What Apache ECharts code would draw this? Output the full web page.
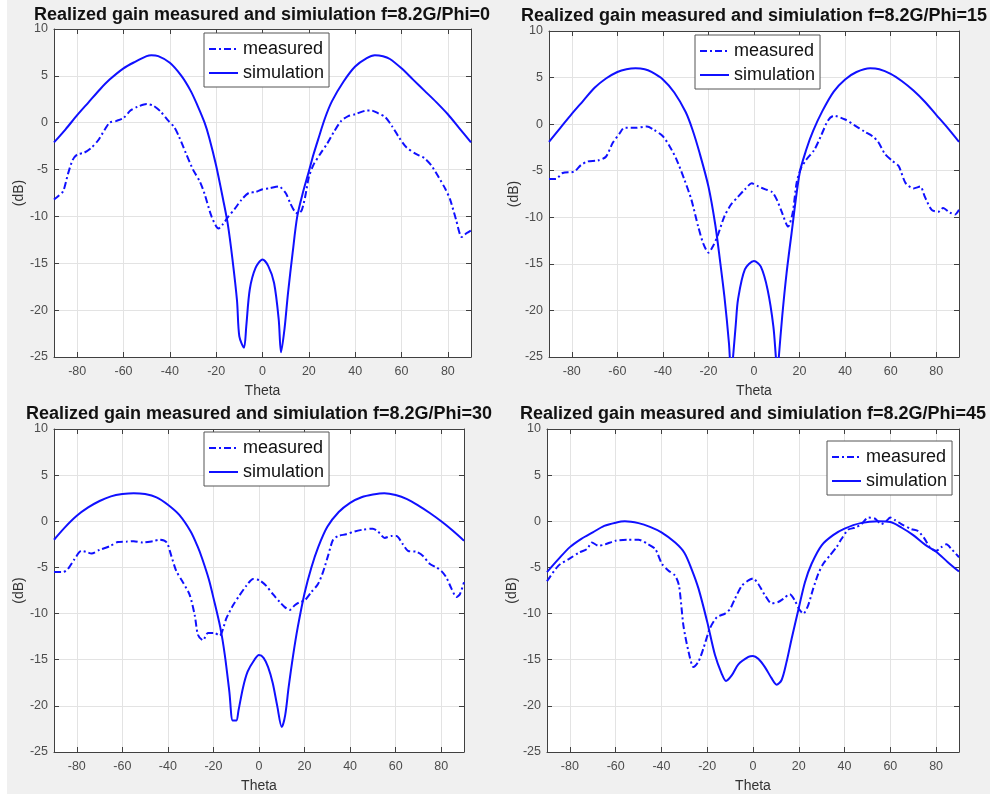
<!DOCTYPE html>
<html>
<head>
<meta charset="utf-8">
<script src="https://cdn.jsdelivr.net/npm/echarts@6.0.0/dist/echarts.min.js"></script>
<style>
html,body{margin:0;padding:0;background:#f0f0f0;}
#chart{width:990px;height:794px;}
</style>
</head>
<body>
<div id="chart"></div>
<script>
// ---------- data ----------
const titles = [
  'Realized gain measured and simiulation f=8.2G/Phi=0',
  'Realized gain measured and simiulation f=8.2G/Phi=15',
  'Realized gain measured and simiulation f=8.2G/Phi=30',
  'Realized gain measured and simiulation f=8.2G/Phi=45'
];
const seriesNames = ['measured', 'simulation'];
const xTicks = [-80, -60, -40, -20, 0, 20, 40, 60, 80];
const xName = 'Theta';
const yName = '(dB)';

// Phi = 0
const simTheta0 = [-90,-85,-80,-75,-70,-66,-60,-55,-50,-48,-45,-40,-35,-31,-28,-25,-23,-20,-17,-15,-13,-11,-10,-8,-7,-5.5,-3,0,2.5,5,7,8,9.5,11,13,15,17.5,20,22,24,27,30,35,40,45,48.5,52,55,60,65,70,75,80,85,90];
const simGain0 = [-2.1,-0.7,0.8,2.2,3.6,4.6,5.8,6.5,7.1,7.2,7.1,6.4,5.0,3.4,1.8,0,-1.6,-4.6,-8.2,-10.8,-14.5,-19,-22.8,-24,-21.7,-17.8,-15.5,-14.6,-15.3,-17.1,-21,-24.5,-22,-18.2,-13.9,-10,-7.4,-5.2,-3.4,-1.8,0.5,2.3,4.4,6.0,6.9,7.2,7.1,6.8,5.8,4.6,3.4,2.2,0.9,-0.6,-2.1];
const measTheta0 = [-90,-88,-86,-84,-82,-80,-77,-74,-71,-68,-66,-63,-60,-57,-54,-50,-47,-44,-41,-38,-36,-33,-30,-27,-25,-22,-19,-17,-15,-12,-9,-6,-3,0,3,7,10,12,14,15.5,17,18.5,20,22,25,28,31,34,37,40,45,47,50,53,56,59,62,66,70,73,76,79,81,83.5,86,88,90];
const measGain0 = [-8.2,-7.8,-7.3,-5.5,-4.0,-3.4,-3.2,-2.7,-1.9,-0.7,0,0.2,0.5,1.3,1.7,2.0,1.8,1.2,0.3,-0.5,-1.5,-3.3,-5.0,-6.3,-7.6,-10,-11.3,-10.8,-10.1,-9.2,-8.2,-7.5,-7.4,-7.1,-7.0,-6.8,-7.5,-8.6,-9.5,-9.7,-9.3,-7.8,-5.8,-4.5,-3.3,-2.2,-0.9,0.2,0.7,0.9,1.3,1.3,1.0,0.6,-0.4,-1.6,-2.6,-3.3,-3.8,-4.6,-5.8,-7.1,-8.2,-10.3,-12.2,-11.8,-11.5];

// Phi = 15
const simTheta15 = [-90,-85,-80,-75,-70,-65,-60,-56,-52,-48,-45,-40,-35,-30,-27,-24,-20,-17,-15,-13,-11,-10,-9.2,-8,-7,-4,0,3,6,8.5,9.6,10.3,10.9,12.4,14.3,16.5,20,23,26,30,35,40,45,51,55,60,65,70,75,80,85,90];
const simGain15 = [-1.9,-0.4,1.1,2.5,3.9,4.9,5.6,5.9,6.0,5.9,5.6,4.8,3.4,1.3,-0.6,-3.0,-6.7,-10.8,-14.5,-18.5,-23.5,-27,-25,-21.5,-18.8,-15.6,-14.7,-15.3,-17.8,-21.7,-25,-27,-25,-20.6,-16,-11.7,-5.3,-2.7,-0.7,1.4,3.5,4.8,5.6,6.0,5.9,5.4,4.6,3.6,2.4,1.0,-0.4,-1.9];
const measTheta15 = [-90,-87,-84,-79,-76,-73,-68.5,-65,-62,-59,-57,-52,-47,-44,-40,-37,-34,-30.5,-27.5,-24.5,-22.3,-20,-18,-16,-13,-10,-7,-4,-1,2,5,8,10,12,15,17,18.7,20.5,23,26.5,29.5,32.5,35,40,44,48.5,52,54.5,57.5,60.5,63.5,66.5,70,73,75,78,81,83,86,88.3,90];
const measGain15 = [-5.9,-5.9,-5.25,-5.1,-4.4,-4.0,-3.9,-3.5,-2.0,-1.0,-0.4,-0.4,-0.25,-0.6,-1.3,-2.4,-3.8,-6.0,-8.1,-11,-12.8,-13.8,-13.1,-12,-9.9,-8.6,-7.8,-7.0,-6.35,-6.7,-7.0,-7.3,-8.1,-9.3,-11,-9.5,-6.3,-4.8,-3.8,-2.75,-1.2,0.4,0.9,0.5,-0.1,-0.8,-1.3,-1.9,-3.2,-3.9,-4.5,-6.3,-6.9,-6.7,-7.8,-9.2,-9.4,-9.0,-9.5,-9.7,-9.2];

// Phi = 30
const simTheta30 = [-90,-85,-80,-75,-70,-65,-60,-55,-50,-45,-40,-35,-30,-27,-25,-22,-20,-17,-15,-13,-11.5,-10,-9,-7,-5,-2,0,2,4,6,8,10,11.5,13,15,17,20,23,26,30,35,40,45,50,55,60,65,70,75,80,85,90];
const simGain30 = [-2.0,-0.6,0.6,1.5,2.2,2.7,2.95,3.05,2.95,2.6,1.8,0.7,-1.1,-2.7,-4,-6.3,-8.3,-11.5,-14.5,-18.5,-21.6,-21.6,-20.5,-18,-16.3,-15,-14.5,-14.8,-15.8,-17.5,-20,-22.3,-21,-18,-14.5,-11.5,-7.8,-5,-2.8,-0.6,1.0,2.0,2.6,2.9,3.05,2.85,2.4,1.7,0.9,0.0,-1.0,-2.1];
const measTheta30 = [-90,-86,-84,-81,-78,-76,-73.5,-70,-65.5,-62,-58,-55,-51,-46.5,-43.5,-40.5,-38.5,-36.3,-33.4,-30.4,-28.2,-26.8,-24.6,-22.4,-19.5,-17.3,-14.3,-11.4,-8.5,-5.6,-2.6,0.3,3.2,6.1,9.1,11.3,13.5,15.7,17.9,20,22.9,25.9,28.1,30.3,32.5,34.7,38.3,42,45.7,50,52.2,55.2,58.1,60.3,63.2,65.4,69.1,72,74.9,77.9,80.1,82.3,84.5,86.7,88.2,90];
const measGain30 = [-5.5,-5.5,-5.2,-4.1,-3.2,-3.3,-3.5,-3.1,-2.7,-2.25,-2.2,-2.15,-2.3,-2.15,-2.0,-2.3,-3.75,-5.4,-6.6,-8.0,-10.2,-12.3,-12.9,-12.1,-12.1,-12.4,-10.5,-9.1,-8.0,-7.0,-6.25,-6.4,-7.0,-7.9,-8.75,-9.3,-9.6,-9.1,-8.75,-8.6,-7.7,-6.8,-5.5,-3.75,-2.0,-1.6,-1.4,-1.1,-0.9,-0.8,-1.1,-1.8,-1.6,-1.6,-2.5,-3.2,-3.3,-3.75,-4.6,-5.0,-5.4,-6.1,-7.3,-8.2,-7.9,-6.6];

// Phi = 45
const simTheta45 = [-90,-85,-80,-75,-70,-65,-60,-56,-50,-45,-40,-34,-30,-26.8,-23.8,-20,-16.6,-13.7,-11.8,-9.3,-6.4,-2,0,2.3,5.2,8.1,10.3,12.5,14.7,16.9,19.9,22.7,25.6,30,35,40,47,55,60,65,70,75,80,85,90];
const simGain45 = [-5.5,-4.1,-2.8,-1.9,-1.2,-0.5,-0.15,0,-0.2,-0.6,-1.2,-2.3,-3.4,-5.2,-7.3,-10.9,-14.5,-16.5,-17.3,-16.7,-15.5,-14.7,-14.6,-14.9,-15.8,-17,-17.7,-17.2,-15.2,-12.7,-9.5,-6.6,-4.6,-2.6,-1.5,-0.8,-0.2,0,-0.07,-0.7,-1.5,-2.5,-3.3,-4.4,-5.45];
const measTheta45 = [-90,-85,-80.5,-76,-72.5,-70.4,-67.5,-64.6,-60,-55,-50,-45.7,-42.7,-39.8,-36.9,-34,-32.3,-30.4,-28.2,-26,-23.8,-21.7,-18.8,-15.8,-12.2,-10,-7.9,-4.9,-2,0.1,2.3,5.2,8.1,11,13.2,16.1,18.3,20.1,22,24.1,26.3,28.5,30.7,33.6,36.5,38.7,41.6,44.5,47.4,50.3,53.2,56.1,58.3,60,61.9,64.8,69.2,72.1,75,77.2,80.1,82.3,84.5,86.7,90];
const measGain45 = [-6.5,-4.8,-4.1,-3.4,-3.0,-2.3,-2.65,-2.5,-2.1,-2.0,-2.0,-2.5,-3.0,-4.6,-5.35,-5.9,-7.0,-11.3,-14.1,-15.8,-15.2,-13.8,-11.6,-10.4,-10.0,-9.5,-8.4,-7.0,-6.4,-6.2,-6.8,-8.0,-8.9,-8.75,-8.4,-7.9,-8.6,-9.5,-10.0,-9.1,-7.3,-5.7,-4.6,-3.7,-2.8,-1.9,-0.9,-0.7,-0.3,0.4,0.3,-0.3,0.05,0.4,0.15,-0.3,-0.85,-1.05,-1.9,-2.8,-3.2,-2.8,-2.5,-3.0,-3.9];

const simThetas = [simTheta0, simTheta15, simTheta30, simTheta45];
const simGains = [simGain0, simGain15, simGain30, simGain45];
const measThetas = [measTheta0, measTheta15, measTheta30, measTheta45];
const measGains = [measGain0, measGain15, measGain30, measGain45];

// ---------- layout ----------
const grids = [
  {left: 54, top: 29, width: 417, height: 328},
  {left: 549, top: 31, width: 410, height: 326},
  {left: 54, top: 429, width: 410, height: 326},
  {left: 547, top: 429, width: 412, height: 325}
];
const titlePos = [[262, 15], [754, 16], [259, 414], [753, 414]];
const legendPos = [[204, 33], [695, 35], [204, 432], [827, 441]];

const FONT = '"Liberation Sans", Arial, Helvetica, sans-serif';
const BLUE = '#1010ff';
const AXIS = '#404040';
const TICKC = '#4d4d4d';

function zip(a, b) { return a.map((v, i) => [v, b[i]]); }

const xAxis = [], yAxis = [], series = [], legend = [], graphic = [];

graphic.push({type: 'rect', shape: {x: 0, y: 0, width: 7, height: 794}, style: {fill: '#ffffff'}, z: -10, silent: true});

for (let i = 0; i < 4; i++) {
  const common = {
    gridIndex: i, type: 'value',
    axisLine: {show: true, onZero: false, lineStyle: {color: AXIS, width: 1}},
    axisTick: {show: true, inside: true, length: 5, lineStyle: {color: AXIS}}
  };
  xAxis.push(Object.assign({}, common, {
    position: 'bottom', min: -90, max: 90,
    axisTick: {show: true, inside: true, length: 5, lineStyle: {color: AXIS}, customValues: xTicks},
    axisLabel: {show: true, customValues: xTicks, color: TICKC, fontSize: 12.5, fontFamily: FONT, margin: 8},
    splitLine: {show: true, lineStyle: {color: '#e3e3e3', width: 1}},
    name: xName, nameLocation: 'middle', nameGap: 27,
    nameTextStyle: {color: '#333', fontSize: 14, fontFamily: FONT}
  }));
  xAxis.push(Object.assign({}, common, {
    position: 'top', min: -90, max: 90,
    axisTick: {show: true, inside: true, length: 5, lineStyle: {color: AXIS}, customValues: xTicks},
    axisLabel: {show: false, customValues: xTicks},
    splitLine: {show: false}
  }));
  yAxis.push(Object.assign({}, common, {
    position: 'left', min: -25, max: 10, interval: 5,
    axisLabel: {show: true, color: TICKC, fontSize: 12.5, fontFamily: FONT, margin: 6},
    splitLine: {show: true, lineStyle: {color: '#e3e3e3', width: 1}},
    name: yName, nameLocation: 'middle', nameGap: 28, nameRotate: 90,
    nameTextStyle: {color: '#333', fontSize: 14, fontFamily: FONT}
  }));
  yAxis.push(Object.assign({}, common, {
    position: 'right', min: -25, max: 10, interval: 5,
    axisLabel: {show: false},
    splitLine: {show: false}
  }));

  series.push({
    name: seriesNames[0], type: 'line', xAxisIndex: 2 * i, yAxisIndex: 2 * i,
    data: zip(measThetas[i], measGains[i]),
    symbol: 'none', showSymbol: false, smooth: 0.25, clip: true,
    lineStyle: {color: BLUE, width: 2, type: [7, 3, 2, 3]},
    itemStyle: {color: BLUE}, z: 3
  });
  series.push({
    name: seriesNames[1], type: 'line', xAxisIndex: 2 * i, yAxisIndex: 2 * i,
    data: zip(simThetas[i], simGains[i]),
    symbol: 'none', showSymbol: false, smooth: 0.3, clip: true,
    lineStyle: {color: BLUE, width: 2, type: 'solid'},
    itemStyle: {color: BLUE}, z: 3
  });

  legend.push({
    orient: 'vertical', left: legendPos[i][0], top: legendPos[i][1],
    data: seriesNames.slice(),
    itemWidth: 29, itemHeight: 12, itemGap: 6,
    padding: [7, 5, 5, 4],
    backgroundColor: '#ffffff', borderColor: '#555', borderWidth: 1, borderRadius: 0,
    itemStyle: {opacity: 0, borderWidth: 0},
    lineStyle: {width: 2},
    textStyle: {fontSize: 18, color: '#111', fontFamily: FONT},
    selectedMode: false
  });

  graphic.push({
    type: 'text', x: titlePos[i][0], y: titlePos[i][1], silent: true,
    style: {
      text: titles[i], fill: '#111',
      font: 'bold 18px ' + FONT,
      align: 'center', verticalAlign: 'middle',
      textAlign: 'center', textVerticalAlign: 'middle'
    }
  });
}

const chart = echarts.init(document.getElementById('chart'), null, {renderer: 'canvas'});
chart.setOption({
  backgroundColor: '#f0f0f0',
  animation: false,
  grid: grids.map(g => Object.assign({}, g, {show: true, backgroundColor: '#ffffff', borderWidth: 0, containLabel: false})),
  xAxis: xAxis,
  yAxis: yAxis,
  legend: legend,
  series: series,
  graphic: graphic
});
</script>
</body>
</html>
